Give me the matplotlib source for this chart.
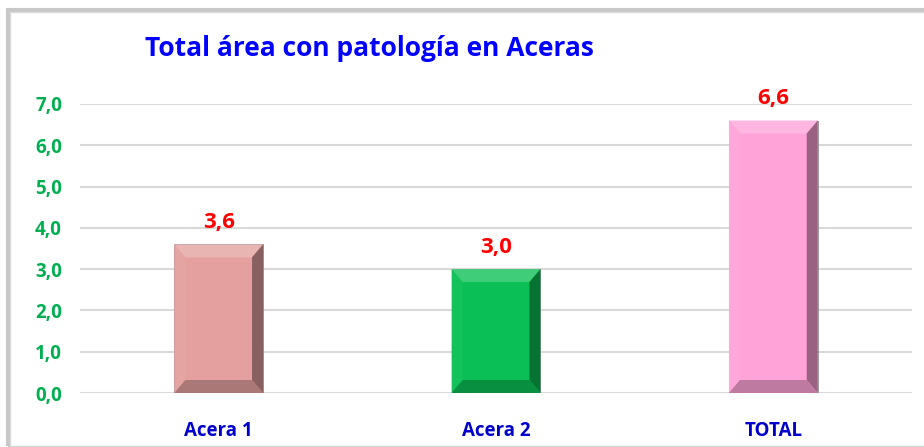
import matplotlib.pyplot as plt
from matplotlib.patches import Polygon, Rectangle
import matplotlib.colors as mcolors
import numpy as np

categorias = ['Acera 1', 'Acera 2', 'TOTAL']
valores = [3.6, 3.0, 6.6]
colores = ['#E3A09E', '#0ABF55', '#FFA3D8']
ticks_y = [0.0, 1.0, 2.0, 3.0, 4.0, 5.0, 6.0, 7.0]

W, H = 924, 447
fig = plt.figure(figsize=(W / 100, H / 100), dpi=100)
plt.rcParams['font.family'] = ['Open Sans', 'DejaVu Sans']

# marco del gráfico con sombra
fig.patches.append(Rectangle((8 / W, 1 / H), 1, 1 - 11 / H, transform=fig.transFigure,
                             facecolor='none', edgecolor='#C8C8C8', lw=3, zorder=-2))
fig.patches.append(Rectangle((10 / W, 1 / H), 1, 1 - 13 / H, transform=fig.transFigure,
                             facecolor='white', edgecolor='#D9D9D9', lw=1, zorder=-1))

ax = fig.add_axes([80 / W, (H - 393) / H, 832 / W, (393 - 104) / H])
ax.set_zorder(1)
ax.patch.set_alpha(0)
ax.set_xlim(-0.5, 2.5)
ax.set_ylim(0, 7)
ax.set_yticks(ticks_y)
ax.set_yticklabels([f'{t:.1f}'.replace('.', ',') for t in ticks_y],
                   color='#00B050', fontweight='bold', fontsize=13.5)
ax.set_xticks(range(len(categorias)))
ax.set_xticklabels(categorias, color='#0000CC', fontweight='bold', fontsize=13.5)
ax.tick_params(length=0, pad=13, axis='y')
ax.tick_params(length=0, pad=20, axis='x')
for s in ax.spines.values():
    s.set_visible(False)
ax.grid(axis='y', color='#D9D9D9', lw=1.5)
ax.set_axisbelow(True)

ancho = 0.32
bars = ax.bar(range(len(categorias)), valores, width=ancho, color=colores,
              edgecolor='#8C8C8C', lw=0.6, zorder=2)

# bisel de las barras (en unidades de datos a partir de pixeles)
dx = 11 / 832 * 3
dy = 13 / (393 - 104) * 7


def tono(c, f):
    r = np.array(mcolors.to_rgb(c))
    if f > 0:
        return tuple(r + (1 - r) * f)
    return tuple(r * (1 + f))


for b, c in zip(bars, colores):
    x0, x1 = b.get_x(), b.get_x() + b.get_width()
    y0, y1 = 0, b.get_height()
    caras = [
        ([(x0, y1), (x1, y1), (x1 - dx, y1 - dy), (x0 + dx, y1 - dy)], 0.22),
        ([(x0, y0), (x0, y1), (x0 + dx, y1 - dy), (x0 + dx, y0 + dy)], 0.04),
        ([(x1, y0), (x1, y1), (x1 - dx, y1 - dy), (x1 - dx, y0 + dy)], -0.4),
        ([(x0, y0), (x1, y0), (x1 - dx, y0 + dy), (x0 + dx, y0 + dy)], -0.25),
    ]
    for pts, f in caras:
        ax.add_patch(Polygon(pts, closed=True, facecolor=tono(c, f), edgecolor='none', zorder=3))
    ax.text(b.get_x() + b.get_width() / 2, y1 + 0.28, f'{y1:.1f}'.replace('.', ','),
            ha='center', va='bottom', color='#FF0000', fontweight='bold', fontsize=16)

fig.text(145 / W, 1 - 48 / H, 'Total área con patología en Aceras', color='#0000FF',
         fontweight='bold', fontsize=19, ha='left', va='center')

fig.savefig('out.png', dpi=100)
